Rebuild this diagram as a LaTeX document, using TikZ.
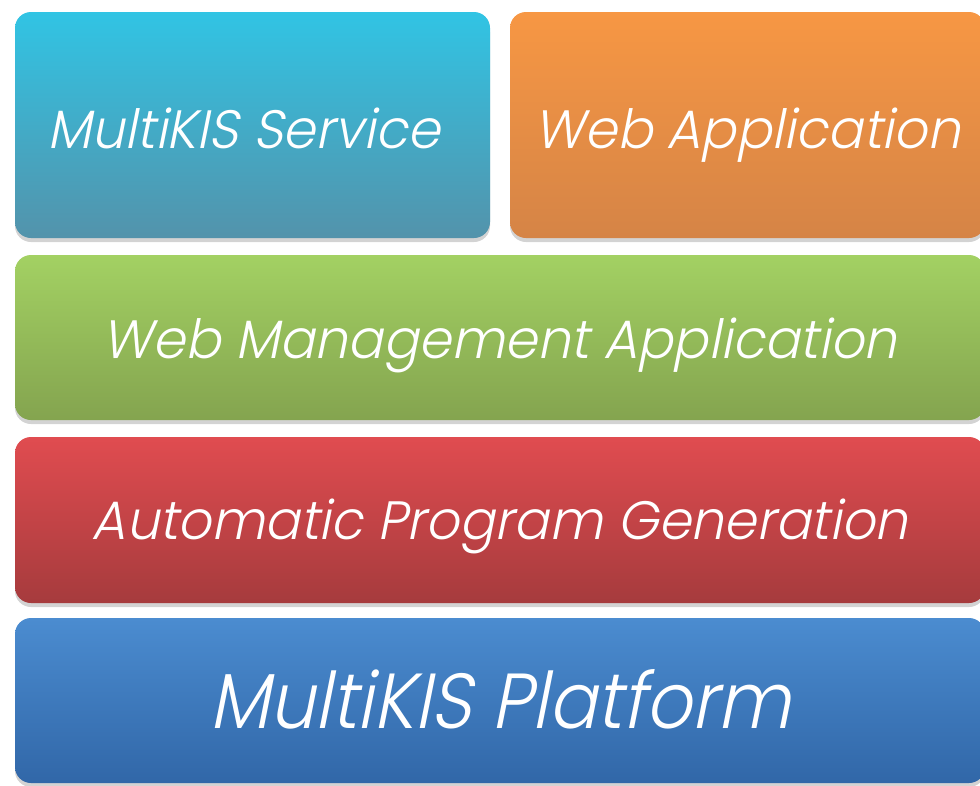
\documentclass[tikz,border=0pt]{standalone}
\usepackage{fontspec}
\usetikzlibrary{shadows}
\newfontfamily\gothic[FakeSlant=0.2,FakeStretch=0.97]{Poppins Light}
\newfontfamily\gothicnarrow[FakeSlant=0.2,FakeStretch=0.92]{Poppins Light}
\definecolor{serviceTop}{HTML}{31C4E4}
\definecolor{serviceBot}{HTML}{5393AB}
\definecolor{webTop}{HTML}{F79744}
\definecolor{webBot}{HTML}{D58446}
\definecolor{mgmtTop}{HTML}{A3D163}
\definecolor{mgmtBot}{HTML}{84A44F}
\definecolor{progTop}{HTML}{E04C50}
\definecolor{progBot}{HTML}{A63B3D}
\definecolor{platTop}{HTML}{4B8CD0}
\definecolor{platBot}{HTML}{3167A8}
\tikzset{
  layer/.style={rounded corners=16pt, inner sep=0pt, text=white, text depth=0pt,
    drop shadow={shadow xshift=0pt, shadow yshift=-4pt, opacity=0.35}},
  label text/.style={font=\fontsize{54}{60}\gothic},
  big text/.style={font=\fontsize{78}{86}\gothicnarrow},
}
\begin{document}
\begin{tikzpicture}[x=1pt,y=-1pt]
\useasboundingbox (0,0) rectangle (980,785);
\clip (0,0) rectangle (980,785);
% top row
\node[layer, label text, top color=serviceTop, bottom color=serviceBot,
  minimum width=475, minimum height=226, text height=46pt] (service) at (252.5,125)
  {\hspace*{-18pt}MultiKIS Service};
\node[layer, label text, top color=webTop, bottom color=webBot,
  minimum width=475, minimum height=226, text height=46pt] (webapp) at (747.5,125)
  {Web Application};
% layers
\node[layer, label text, top color=mgmtTop, bottom color=mgmtBot,
  minimum width=970, minimum height=165, text height=41pt] (mgmt) at (500,337.5)
  {Web Management Application};
\node[layer, label text, top color=progTop, bottom color=progBot,
  minimum width=970, minimum height=166, text height=38pt] (proggen) at (500,520)
  {Automatic Program Generation};
\node[layer, big text, top color=platTop, bottom color=platBot,
  minimum width=970, minimum height=165, text height=55pt] (platform) at (500,700.5)
  {MultiKIS Platform};
\end{tikzpicture}
\end{document}
